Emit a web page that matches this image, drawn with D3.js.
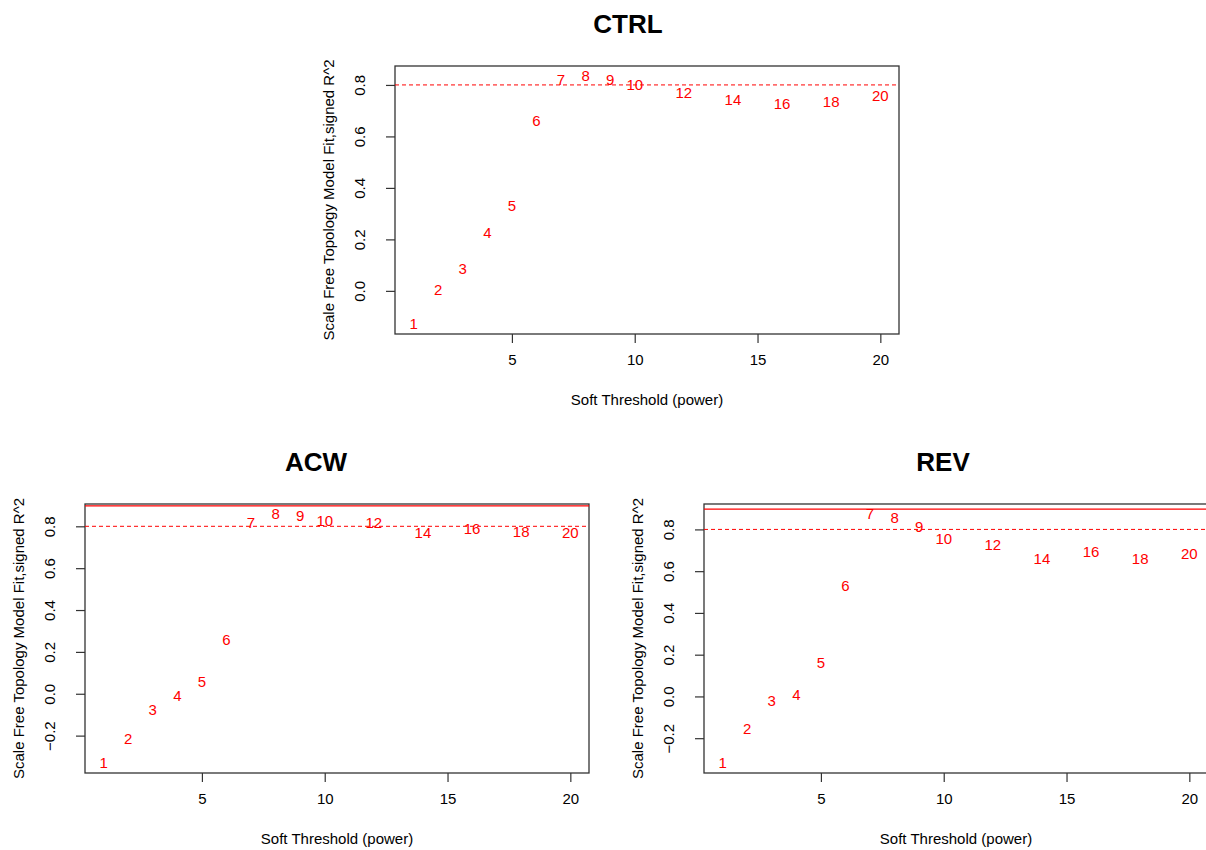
<!DOCTYPE html>
<html>
<head>
<meta charset="utf-8">
<script src="https://cdn.jsdelivr.net/npm/d3@7"></script>
<style>
  html, body { margin: 0; padding: 0; background: #fff; }
  svg text { font-family: "Liberation Sans", Arial, Helvetica, sans-serif; }
</style>
</head>
<body>
<svg id="chart" width="1206" height="850"></svg>
<script>
// ---- data ----
const powers = [1, 2, 3, 4, 5, 6, 7, 8, 9, 10, 12, 14, 16, 18, 20];
const ctrlFit = [-0.129, 0.004, 0.088, 0.226, 0.333, 0.661, 0.819, 0.835, 0.819, 0.800, 0.772, 0.744, 0.726, 0.737, 0.757];
const acwFit  = [-0.331, -0.216, -0.075, -0.007, 0.057, 0.260, 0.816, 0.859, 0.851, 0.827, 0.816, 0.769, 0.787, 0.774, 0.771];
const revFit  = [-0.319, -0.156, -0.019, 0.010, 0.160, 0.530, 0.874, 0.856, 0.814, 0.754, 0.725, 0.660, 0.693, 0.661, 0.682];
const panelTitles = ["CTRL", "ACW", "REV"];
const xTicks = [5, 10, 15, 20];
const ctrlYTicks = [0.0, 0.2, 0.4, 0.6, 0.8];
const acwYTicks = [-0.2, 0.0, 0.2, 0.4, 0.6, 0.8];
const revYTicks = [-0.2, 0.0, 0.2, 0.4, 0.6, 0.8];
const dashedCutoff = 0.8;
const solidCutoff = 0.9;
const xLabel = "Soft Threshold (power)";
const yLabel = "Scale Free Topology Model Fit,signed R^2";

// ---- layout ----
const panels = [
  { title: panelTitles[0], fit: ctrlFit, yTicks: ctrlYTicks, solid: false, titleX: 628, box: { x0: 395, x1: 899, y0: 66, y1: 334 } },
  { title: panelTitles[1], fit: acwFit,  yTicks: acwYTicks,  solid: true,  titleX: 316, box: { x0: 85,  x1: 589, y0: 504, y1: 773 } },
  { title: panelTitles[2], fit: revFit,  yTicks: revYTicks,  solid: true,  titleX: 943, box: { x0: 704, x1: 1208, y0: 504, y1: 773 } }
];

const svg = d3.select("#chart");
const red = "#ff0000";
const axisCol = "#333333";
const fontFam = "Liberation Sans, Arial, Helvetica, sans-serif";

function padExtent(vals) {
  const [lo, hi] = d3.extent(vals);
  const p = (hi - lo) * 0.04;
  return [lo - p, hi + p];
}

panels.forEach((pn, i) => {
  const b = pn.box;
  const x = d3.scaleLinear().domain(padExtent(powers)).range([b.x0, b.x1]);
  const y = d3.scaleLinear().domain(padExtent(pn.fit)).range([b.y1, b.y0]);
  const g = svg.append("g");
  const clipId = "clip" + i;
  svg.append("clipPath").attr("id", clipId)
    .append("rect").attr("x", b.x0).attr("y", b.y0).attr("width", b.x1 - b.x0).attr("height", b.y1 - b.y0);

  // title
  g.append("text")
    .attr("x", pn.titleX).attr("y", b.y0 - 33)
    .attr("text-anchor", "middle")
    .attr("font-size", 26).attr("font-weight", "bold").attr("fill", "#000")
    .text(pn.title);

  // box
  g.append("rect")
    .attr("x", b.x0).attr("y", b.y0).attr("width", b.x1 - b.x0).attr("height", b.y1 - b.y0)
    .attr("fill", "none").attr("stroke", axisCol).attr("stroke-width", 1.3);

  // reference lines
  const lines = g.append("g").attr("clip-path", `url(#${clipId})`);
  lines.append("line")
    .attr("x1", b.x0).attr("x2", b.x1)
    .attr("y1", y(dashedCutoff)).attr("y2", y(dashedCutoff))
    .attr("stroke", red).attr("stroke-width", 1).attr("stroke-dasharray", "4,3");
  if (pn.solid) {
    lines.append("line")
      .attr("x1", b.x0).attr("x2", b.x1)
      .attr("y1", y(solidCutoff) + 0.5).attr("y2", y(solidCutoff) + 0.5)
      .attr("stroke", red).attr("stroke-width", 1.3);
  }

  // point labels
  g.append("g").attr("clip-path", `url(#${clipId})`)
    .selectAll("text").data(powers).join("text")
    .attr("x", d => x(d))
    .attr("y", (d, j) => y(pn.fit[j]))
    .attr("dy", "0.36em")
    .attr("text-anchor", "middle")
    .attr("font-size", 15).attr("fill", red)
    .text(d => d);

  // x axis
  const xa = g.append("g").attr("transform", `translate(0,${b.y1})`)
    .call(d3.axisBottom(x).tickValues(xTicks).tickSize(9).tickPadding(11).tickFormat(d3.format("d")));
  xa.select(".domain").remove();
  xa.selectAll(".tick line").attr("stroke", axisCol).attr("stroke-width", 1.2);
  xa.selectAll(".tick text").attr("font-size", 15).attr("fill", "#000").attr("font-family", fontFam);

  // y axis
  const ya = g.append("g").attr("transform", `translate(${b.x0},0)`)
    .call(d3.axisLeft(y).tickValues(pn.yTicks).tickSize(9).tickFormat(d => d3.format(".1f")(d).replace("-", "\u2212")));
  ya.select(".domain").remove();
  ya.selectAll(".tick line").attr("stroke", axisCol).attr("stroke-width", 1.2);
  ya.selectAll(".tick text")
    .attr("font-size", 15).attr("fill", "#000").attr("font-family", fontFam)
    .attr("x", null).attr("dy", null)
    .attr("text-anchor", "middle")
    .attr("transform", "translate(-30,0) rotate(-90)");

  // axis titles
  g.append("text")
    .attr("x", (b.x0 + b.x1) / 2).attr("y", b.y1 + 71)
    .attr("text-anchor", "middle").attr("font-size", 15).attr("fill", "#000")
    .text(xLabel);
  g.append("text")
    .attr("transform", `translate(${b.x0 - 61},${(b.y0 + b.y1) / 2}) rotate(-90)`)
    .attr("text-anchor", "middle").attr("font-size", 15).attr("fill", "#000")
    .text(yLabel);
});
</script>
</body>
</html>
